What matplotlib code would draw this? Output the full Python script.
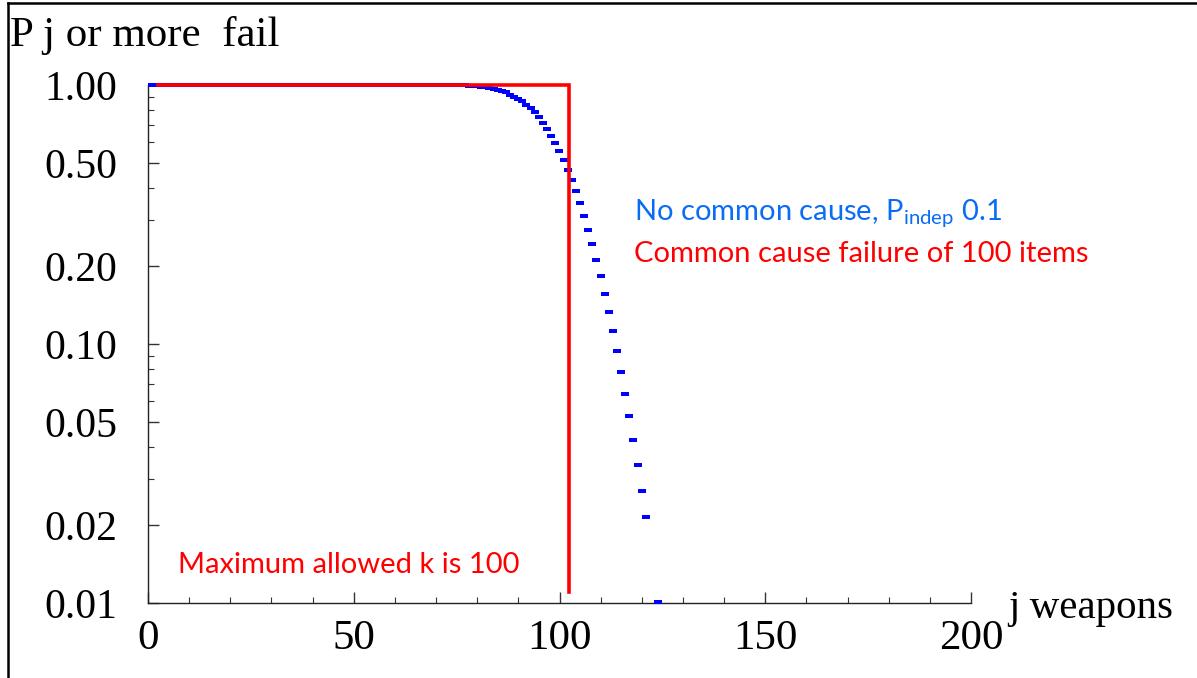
import numpy as np
import matplotlib
matplotlib.use("Agg")
import matplotlib.pyplot as plt
from matplotlib.path import Path
from matplotlib.lines import Line2D
from matplotlib.ticker import FixedLocator, NullFormatter

# blue: P(j or more fail), no common cause
j_blue = list(range(0, 121)) + [123]
p_blue = [
    1.0, 1.0, 1.0, 1.0, 1.0, 1.0, 1.0, 1.0, 1.0, 1.0,
    1.0, 1.0, 1.0, 1.0, 1.0, 1.0, 1.0, 1.0, 1.0, 1.0,
    1.0, 1.0, 1.0, 1.0, 1.0, 1.0, 1.0, 1.0, 1.0, 1.0,
    1.0, 1.0, 1.0, 1.0, 1.0, 1.0, 1.0, 1.0, 1.0, 1.0,
    1.0, 1.0, 1.0, 1.0, 1.0, 1.0, 1.0, 1.0, 1.0, 1.0,
    1.0, 1.0, 1.0, 1.0, 1.0, 1.0, 1.0, 1.0, 1.0, 1.0,
    1.0, 1.0, 1.0, 1.0, 1.0, 1.0, 1.0, 1.0, 1.0, 1.0,
    1.0, 1.0, 1.0, 0.999, 0.998, 0.997, 0.996, 0.994, 0.992, 0.989,
    0.985, 0.980, 0.974, 0.967, 0.959, 0.950, 0.937, 0.915, 0.897, 0.883,
    0.864, 0.837, 0.813, 0.785, 0.750, 0.715, 0.678, 0.637, 0.597, 0.555,
    0.515, 0.471, 0.430, 0.391, 0.349, 0.312, 0.276, 0.243, 0.211, 0.183,
    0.156, 0.133, 0.112, 0.094, 0.078, 0.064, 0.0526, 0.0425, 0.0342, 0.0271,
    0.0215, 0.0101,
]

# red: common cause failure of 100 items
j_red = [2.4, 102.3, 102.3]
p_red = [1.0, 1.0, 0.0110]

y_major = [0.01, 0.02, 0.05, 0.1, 0.2, 0.5, 1.0]
y_major_labels = ["0.01", "0.02", "0.05", "0.10", "0.20", "0.50", "1.00"]
y_minor = [0.03, 0.04, 0.06, 0.07, 0.08, 0.09, 0.3, 0.4, 0.6, 0.7, 0.8, 0.9]
x_major = [0, 50, 100, 150, 200]
x_minor = [10, 20, 30, 40, 60, 70, 80, 90, 110, 120, 130, 140, 160, 170, 180, 190]

plt.rcParams['mathtext.fontset'] = 'custom'
plt.rcParams['mathtext.rm'] = 'Lato'

W, H = 1197, 678
fig = plt.figure(figsize=(W / 100, H / 100), dpi=100)
ax = fig.add_axes([148 / W, 1 - 603 / H, (971 - 148) / W, (603 - 85) / H])

# left-anchored short dash like the original markers
dash = Path([(0, -0.3), (1, -0.3), (1, 0.3), (0, 0.3), (0, -0.3)],
            [Path.MOVETO, Path.LINETO, Path.LINETO, Path.LINETO, Path.CLOSEPOLY])
ax.plot(j_blue, p_blue, ls='none', marker=dash, ms=11.5, mew=0,
        color='#0000ff', clip_on=False, zorder=3)
ax.plot(j_red, p_red, color='#ff0000', lw=2.6, solid_joinstyle='miter',
        clip_on=False, zorder=4)

ax.set_yscale('log')
ax.set_xlim(0, 200)
ax.set_ylim(0.01, 1.0)
for s in ['top', 'right']:
    ax.spines[s].set_visible(False)
for s in ['left', 'bottom']:
    ax.spines[s].set_linewidth(1.0)
    ax.spines[s].set_color('#222222')

ax.yaxis.set_major_locator(FixedLocator(y_major))
ax.yaxis.set_minor_locator(FixedLocator(y_minor))
ax.set_yticklabels(y_major_labels)
ax.yaxis.set_minor_formatter(NullFormatter())
ax.xaxis.set_major_locator(FixedLocator(x_major))
ax.xaxis.set_minor_locator(FixedLocator(x_minor))
ax.set_xticklabels([str(v) for v in x_major])

serif = 'Liberation Serif'
ax.tick_params(which='major', direction='in', length=8, width=1, color='#333333')
ax.tick_params(which='minor', direction='in', length=4, width=0.8, color='#333333')
ax.tick_params(axis='y', which='major', pad=22, labelsize=30)
ax.tick_params(axis='x', which='major', pad=12, labelsize=31)
for lab in ax.get_xticklabels() + ax.get_yticklabels():
    lab.set_fontfamily(serif)

fig.text(10 / W, 1 - 46 / H, "P j or more  fail", family=serif, fontsize=31,
         va='baseline', ha='left')
fig.text(1008 / W, 1 - 618 / H, "j weapons", family=serif, fontsize=29.5,
         va='baseline', ha='left')

ax.text(634 / W, 1 - 214 / H, r"No common cause, P$_\mathregular{indep}$ 0.1",
        transform=fig.transFigure, family='Lato', fontsize=21, color='#0a6cf5',
        va='center', ha='left')
ax.text(634 / W, 1 - 254 / H, "Common cause failure of 100 items",
        transform=fig.transFigure, family='Lato', fontsize=21, color='#ff0000',
        va='center', ha='left')
ax.text(178 / W, 1 - 565 / H, "Maximum allowed k is 100",
        transform=fig.transFigure, family='Lato', fontsize=21, color='#ff0000',
        va='center', ha='left')

# outer frame (top and left edges visible)
fig.add_artist(Line2D([8 / W, 8 / W], [0, 1 - 3 / H], color='black', lw=1.8))
fig.add_artist(Line2D([8 / W, 1], [1 - 3 / H, 1 - 3 / H], color='black', lw=1.8))

fig.savefig('out.png', dpi=100)
